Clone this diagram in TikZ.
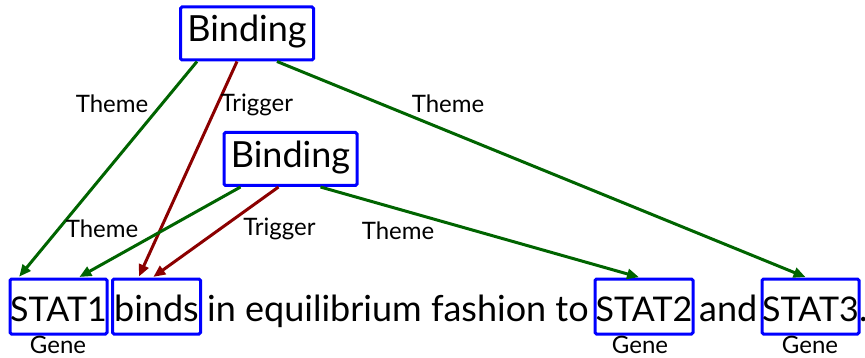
\documentclass[tikz,border=0pt]{standalone}
\usepackage{fontspec}
\setmainfont{Lato}
\usetikzlibrary{arrows.meta}
\begin{document}
\begin{tikzpicture}[x=1pt,y=-1pt,
  annbox/.style={draw=blue, line width=3pt, rounded corners=1.5pt, inner sep=0pt},
  wordbox/.style={annbox, minimum height=55pt, text height=30pt, text depth=0pt},
  bigfont/.style={font=\fontsize{36}{42}\selectfont},
  capfont/.style={font=\fontsize{34}{40}\selectfont},
  eventbox/.style={annbox, bigfont, minimum height=53pt,
    minimum width=133pt, text height=22pt, text depth=5.6pt},
  plain/.style={inner sep=1pt, anchor=base west, bigfont},
  lbl/.style={inner sep=1pt, anchor=base, font=\fontsize{24}{28}\selectfont},
  theme/.style={draw={rgb,255:red,0;green,100;blue,0}, line width=3pt,
    -{Triangle[length=12pt,width=10pt]}, shorten >=1pt},
  trigger/.style={draw={rgb,255:red,139;green,0;blue,0}, line width=3pt,
    -{Triangle[length=12pt,width=10pt]}, shorten >=1pt}
]
\useasboundingbox (0,0) rectangle (865,358);

% event triggers
\node[eventbox] (b1) at (247,33.5) {Binding};
\node[eventbox] (b2) at (290.5,159) {Binding};

% sentence with annotated words
\node[wordbox, capfont, minimum width=97pt] (s1) at (58.5,306.5) {STAT1};
\node[wordbox, bigfont, minimum width=88pt] (w1) at (156.5,306.5) {binds};
\node[plain] (t1) at (206,321.7) {in equilibrium fashion to};
\node[wordbox, capfont, minimum width=98pt] (s2) at (644,306.5) {STAT2};
\node[plain] (t2) at (698,321.7) {and};
\node[wordbox, capfont, minimum width=97pt] (s3) at (810.5,306.5) {STAT3};
\node[plain] (t3) at (858,321.7) {.};

% entity types
\node[lbl] (g1) at (58,353) {Gene};
\node[lbl] (g2) at (640,353) {Gene};
\node[lbl] (g3) at (810,353) {Gene};

% arguments of the outer event
\draw[theme] ([xshift=-50pt]b1.south) -- ([xshift=-40pt]s1.north);
\draw[trigger] ([xshift=-10pt]b1.south) -- ([xshift=-18pt]w1.north);
\draw[theme] ([xshift=30pt]b1.south) -- ([xshift=-4pt]s3.north);

% arguments of the inner event
\draw[theme] ([xshift=-50pt]b2.south) -- ([xshift=20pt]s1.north);
\draw[trigger] ([xshift=-12pt]b2.south) -- ([xshift=-4pt]w1.north);
\draw[theme] ([xshift=30pt]b2.south) -- ([xshift=-4pt]s2.north);

% role labels
\node[lbl] (l1) at (112,113) {Theme};
\node[lbl] (l2) at (257,112) {Trigger};
\node[lbl] (l3) at (448,113) {Theme};
\node[lbl] (l4) at (102,238) {Theme};
\node[lbl] (l5) at (279.5,236) {Trigger};
\node[lbl] (l6) at (398,240) {Theme};
\end{tikzpicture}
\end{document}
